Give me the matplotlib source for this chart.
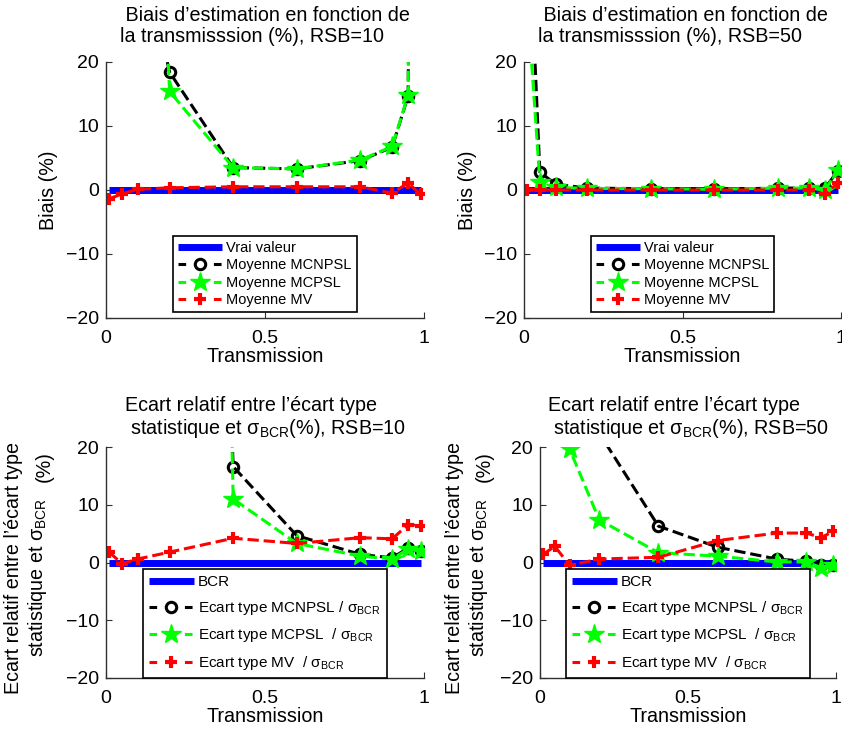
import matplotlib
matplotlib.use("Agg")
import matplotlib.pyplot as plt
from matplotlib.lines import Line2D

plt.rcParams['font.family'] = ['Liberation Sans', 'DejaVu Sans']
plt.rcParams['mathtext.fontset'] = 'custom'
plt.rcParams['mathtext.rm'] = 'Liberation Sans'
plt.rcParams['mathtext.it'] = 'Liberation Sans:italic'
plt.rcParams['mathtext.bf'] = 'Liberation Sans:bold'

# ---------------- data ----------------
transmission = [0.01, 0.05, 0.1, 0.2, 0.4, 0.6, 0.8, 0.9, 0.95, 0.99]
xticks = [0, 0.5, 1]
yticks = [-20, -10, 0, 10, 20]

vrai_valeur = [0, 0, 0, 0, 0, 0, 0, 0, 0, 0]

# Bias, RSB=10
biais_mcnpsl_10 = [300, 150, 40, 18.4, 3.5, 3.3, 4.6, 6.7, 14.7, 250]
biais_mcpsl_10 = [400, 250, 120, 15.4, 3.5, 3.3, 4.7, 6.8, 14.8, 250]
biais_mv_10 = [-1.4, -0.6, 0.1, 0.35, 0.5, 0.5, 0.5, -0.5, 1.1, -0.7]

# Bias, RSB=50
biais_mcnpsl_50 = [48, 2.8, 0.9, 0.3, 0.2, 0.1, 0.3, 0.3, 0.3, 3.0]
biais_mcpsl_50 = [30, 1.3, 0.4, 0.25, 0.2, 0.1, 0.3, 0.3, 0.0, 3.1]
biais_mv_50 = [0.0, 0.0, 0.0, 0.0, 0.0, 0.0, 0.0, 0.0, -0.7, 1.1]

# Relative std gap, RSB=10
ecart_mcnpsl_10 = [600, 500, 400, 300, 16.6, 4.65, 1.4, 0.8, 2.5, 1.95]
ecart_mcpsl_10 = [800, 700, 600, 500, 11.0, 3.3, 1.1, 0.6, 2.35, 1.95]
ecart_mv_10 = [1.8, -0.2, 0.6, 1.8, 4.2, 3.3, 4.3, 4.1, 6.55, 6.4]

# Relative std gap, RSB=50
ecart_mcnpsl_50 = [100, 50, 35, 22.4, 6.3, 2.65, 0.6, 0.2, -0.5, -0.4]
ecart_mcpsl_50 = [60, 30, 19.65, 7.4, 1.7, 1.1, 0.1, 0.1, -0.9, -0.45]
ecart_mv_50 = [1.4, 2.8, -0.5, 0.6, 0.9, 3.8, 5.1, 5.1, 4.3, 5.4]

titres = [
    " Biais d\u2019estimation en fonction de\nla transmisssion (%), RSB=10",
    " Biais d\u2019estimation en fonction de\nla transmisssion (%), RSB=50",
    "Ecart relatif entre l\u2019\u00e9cart type\n statistique et \u03c3$_{\\mathrm{BCR}}$(%), RSB=10",
    "Ecart relatif entre l\u2019\u00e9cart type\n statistique et \u03c3$_{\\mathrm{BCR}}$(%), RSB=50",
]
leg_haut = ["Vrai valeur", "Moyenne MCNPSL", "Moyenne MCPSL", "Moyenne MV"]
leg_bas = ["BCR",
           "Ecart type MCNPSL / \u03c3$_{\\mathrm{BCR}}$",
           "Ecart type MCPSL  / \u03c3$_{\\mathrm{BCR}}$",
           "Ecart type MV  / \u03c3$_{\\mathrm{BCR}}$"]

# ---------------- figure ----------------
W, H = 842, 729
fig = plt.figure(figsize=(W / 100, H / 100), dpi=100)

def px_rect(l, r, t, b):
    return [l / W, 1 - b / H, (r - l) / W, (b - t) / H]

ax_tl = fig.add_axes(px_rect(106, 424, 62, 318))
ax_tr = fig.add_axes(px_rect(524, 841, 62, 318))
ax_bl = fig.add_axes(px_rect(106, 424, 447, 678))
ax_br = fig.add_axes(px_rect(540, 836, 447, 678))

FS = 14.2
LW = 2.2
GREEN = '#00ff00'
styles = dict(
    blue=dict(color='#0000ff', lw=5, solid_capstyle='butt'),
    black=dict(color='black', lw=LW, ls='--', marker='o', ms=7.5, mfc='none', mec='black', mew=2.2),
    green=dict(color=GREEN, lw=LW, ls='--', marker='*', ms=15, mfc=GREEN, mec=GREEN, mew=1),
    red=dict(color='red', lw=LW, ls='--', marker='+', ms=9, mec='red', mew=3),
)

def proxy(kind):
    st = dict(styles[kind])
    if st.get('ls') == '--':
        st['ls'] = (0, (5.5 / LW, 20 / LW))
    return Line2D([], [], **st)

def draw(ax, series, title, labels, bas):
    ax.plot(transmission, vrai_valeur, **styles['blue'])
    for kind, vals in zip(['black', 'green', 'red'], series):
        ax.plot(transmission, vals, clip_on=True, **styles[kind])
    ax.set_xlim(0, 1)
    ax.set_ylim(-20, 20)
    ax.set_xticks(xticks)
    ax.set_xticklabels(['0', '0.5', '1'])
    ax.set_yticks(yticks)
    for s in ['top', 'right']:
        ax.spines[s].set_visible(False)
    for s in ['left', 'bottom']:
        ax.spines[s].set_color('#303030')
        ax.spines[s].set_linewidth(1.0)
    ax.tick_params(direction='in', length=4, width=0.8, color='#303030',
                   labelsize=14, pad=5)
    ax.tick_params(axis='x', pad=8.5)
    ax.set_xlabel('Transmission', fontsize=FS, labelpad=0)
    ax.set_title(title, fontsize=FS, pad=9 if bas else 14.5,
                 multialignment='left', linespacing=1.15)
    handles = [proxy(k) for k in ['blue', 'black', 'green', 'red']]
    if bas:
        leg = ax.legend(handles, labels, loc='lower center', bbox_to_anchor=(0.5, 0.0),
                        borderaxespad=0, fontsize=11, handlelength=2.9,
                        labelspacing=0.62, numpoints=1, fancybox=False,
                        framealpha=1, edgecolor='black', borderpad=0.4,
                        handletextpad=0.3)
    else:
        leg = ax.legend(handles, labels, loc='lower center', bbox_to_anchor=(0.5, 6 / 256),
                        borderaxespad=0, fontsize=10.5, handlelength=3.0,
                        labelspacing=0.22, numpoints=1, fancybox=False,
                        framealpha=1, edgecolor='black', borderpad=0.35,
                        handletextpad=0.3)
    leg.get_frame().set_linewidth(1.2)

draw(ax_tl, [biais_mcnpsl_10, biais_mcpsl_10, biais_mv_10], titres[0], leg_haut, False)
draw(ax_tr, [biais_mcnpsl_50, biais_mcpsl_50, biais_mv_50], titres[1], leg_haut, False)
draw(ax_bl, [ecart_mcnpsl_10, ecart_mcpsl_10, ecart_mv_10], titres[2], leg_bas, True)
draw(ax_br, [ecart_mcnpsl_50, ecart_mcpsl_50, ecart_mv_50], titres[3], leg_bas, True)

def ftext(x, y, s, **kw):
    fig.text(x / W, 1 - y / H, s, rotation=90, ha='center', va='center',
             fontsize=FS, **kw)

ftext(48, 190, 'Biais (%)')
ftext(468, 190, 'Biais (%)')
for dx in (0, 440):
    ftext(14 + dx, 568, "Ecart relatif entre l\u2019\u00e9cart type")
    ftext(38 + dx, 577, "statistique et \u03c3$_{\\mathrm{BCR}}$")
    ftext(44 + dx, 467, "(%)")

fig.savefig('out.png', dpi=100)
